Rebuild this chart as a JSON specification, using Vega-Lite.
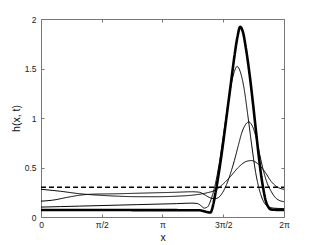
{
  "$schema": "https://vega.github.io/schema/vega-lite/v6.json",
  "width": 243,
  "height": 198,
  "autosize": {"type": "none"},
  "padding": {"left": 41, "top": 19, "right": 30, "bottom": 28},
  "background": "white",
  "config": {
    "view": {"stroke": null},
    "font": "Liberation Sans",
    "axis": {
      "grid": false,
      "domainColor": "#777",
      "domainWidth": 1,
      "tickColor": "#777",
      "tickSize": -3,
      "labelFont": "Liberation Sans",
      "labelFontSize": 8.5,
      "labelColor": "#222",
      "titleFont": "Liberation Sans",
      "titleFontSize": 10.5,
      "titleFontWeight": "normal",
      "titleColor": "#111"
    }
  },
  "data": {
    "values": [
      {"s": "d", "x": 0, "h": 0.3},
      {"s": "d", "x": 6.2832, "h": 0.3},

      {"s": "a", "x": 0, "h": 0.28},
      {"s": "a", "x": 0.5, "h": 0.26},
      {"s": "a", "x": 1.0, "h": 0.235},
      {"s": "a", "x": 1.5, "h": 0.22},
      {"s": "a", "x": 2.0, "h": 0.21},
      {"s": "a", "x": 2.5, "h": 0.205},
      {"s": "a", "x": 3.0, "h": 0.205},
      {"s": "a", "x": 3.5, "h": 0.21},
      {"s": "a", "x": 3.9, "h": 0.22},
      {"s": "a", "x": 4.1, "h": 0.23},
      {"s": "a", "x": 4.3, "h": 0.245},
      {"s": "a", "x": 4.5, "h": 0.27},
      {"s": "a", "x": 4.7, "h": 0.33},
      {"s": "a", "x": 4.9, "h": 0.41},
      {"s": "a", "x": 5.1, "h": 0.5},
      {"s": "a", "x": 5.3, "h": 0.56},
      {"s": "a", "x": 5.44, "h": 0.57},
      {"s": "a", "x": 5.6, "h": 0.54},
      {"s": "a", "x": 5.8, "h": 0.45},
      {"s": "a", "x": 5.95, "h": 0.36},
      {"s": "a", "x": 6.1, "h": 0.305},
      {"s": "a", "x": 6.2832, "h": 0.28},

      {"s": "b", "x": 0, "h": 0.16},
      {"s": "b", "x": 0.3, "h": 0.17},
      {"s": "b", "x": 0.7, "h": 0.2},
      {"s": "b", "x": 1.0, "h": 0.22},
      {"s": "b", "x": 1.3, "h": 0.23},
      {"s": "b", "x": 2.0, "h": 0.235},
      {"s": "b", "x": 2.5, "h": 0.24},
      {"s": "b", "x": 3.0, "h": 0.245},
      {"s": "b", "x": 3.5, "h": 0.25},
      {"s": "b", "x": 3.9, "h": 0.255},
      {"s": "b", "x": 4.1, "h": 0.25},
      {"s": "b", "x": 4.25, "h": 0.22},
      {"s": "b", "x": 4.4, "h": 0.19},
      {"s": "b", "x": 4.5, "h": 0.185},
      {"s": "b", "x": 4.6, "h": 0.2},
      {"s": "b", "x": 4.7, "h": 0.25},
      {"s": "b", "x": 4.8, "h": 0.33},
      {"s": "b", "x": 4.9, "h": 0.44},
      {"s": "b", "x": 5.0, "h": 0.57},
      {"s": "b", "x": 5.1, "h": 0.72},
      {"s": "b", "x": 5.2, "h": 0.86},
      {"s": "b", "x": 5.3, "h": 0.94},
      {"s": "b", "x": 5.37, "h": 0.96},
      {"s": "b", "x": 5.45, "h": 0.93},
      {"s": "b", "x": 5.55, "h": 0.82},
      {"s": "b", "x": 5.65, "h": 0.64},
      {"s": "b", "x": 5.75, "h": 0.47},
      {"s": "b", "x": 5.85, "h": 0.34},
      {"s": "b", "x": 5.95, "h": 0.26},
      {"s": "b", "x": 6.05, "h": 0.2},
      {"s": "b", "x": 6.15, "h": 0.17},
      {"s": "b", "x": 6.2832, "h": 0.155},

      {"s": "c", "x": 0, "h": 0.1},
      {"s": "c", "x": 0.5, "h": 0.105},
      {"s": "c", "x": 1.0, "h": 0.11},
      {"s": "c", "x": 1.5, "h": 0.115},
      {"s": "c", "x": 2.0, "h": 0.12},
      {"s": "c", "x": 2.5, "h": 0.125},
      {"s": "c", "x": 3.0, "h": 0.13},
      {"s": "c", "x": 3.5, "h": 0.135},
      {"s": "c", "x": 3.9, "h": 0.14},
      {"s": "c", "x": 4.05, "h": 0.135},
      {"s": "c", "x": 4.15, "h": 0.11},
      {"s": "c", "x": 4.22, "h": 0.09},
      {"s": "c", "x": 4.3, "h": 0.1},
      {"s": "c", "x": 4.4, "h": 0.18},
      {"s": "c", "x": 4.5, "h": 0.32},
      {"s": "c", "x": 4.6, "h": 0.52},
      {"s": "c", "x": 4.7, "h": 0.78},
      {"s": "c", "x": 4.8, "h": 1.05},
      {"s": "c", "x": 4.9, "h": 1.3},
      {"s": "c", "x": 5.0, "h": 1.47},
      {"s": "c", "x": 5.07, "h": 1.52},
      {"s": "c", "x": 5.15, "h": 1.47},
      {"s": "c", "x": 5.25, "h": 1.3},
      {"s": "c", "x": 5.35, "h": 1.02},
      {"s": "c", "x": 5.45, "h": 0.72},
      {"s": "c", "x": 5.55, "h": 0.45},
      {"s": "c", "x": 5.65, "h": 0.27},
      {"s": "c", "x": 5.75, "h": 0.16},
      {"s": "c", "x": 5.85, "h": 0.11},
      {"s": "c", "x": 6.0, "h": 0.09},
      {"s": "c", "x": 6.2832, "h": 0.085},

      {"s": "t", "x": 0, "h": 0.07},
      {"s": "t", "x": 2.0, "h": 0.07},
      {"s": "t", "x": 4.1, "h": 0.068},
      {"s": "t", "x": 4.2, "h": 0.06},
      {"s": "t", "x": 4.3, "h": 0.05},
      {"s": "t", "x": 4.38, "h": 0.045},
      {"s": "t", "x": 4.45, "h": 0.12},
      {"s": "t", "x": 4.5, "h": 0.22},
      {"s": "t", "x": 4.55, "h": 0.33},
      {"s": "t", "x": 4.6, "h": 0.45},
      {"s": "t", "x": 4.7, "h": 0.72},
      {"s": "t", "x": 4.8, "h": 1.02},
      {"s": "t", "x": 4.9, "h": 1.32},
      {"s": "t", "x": 5.0, "h": 1.62},
      {"s": "t", "x": 5.08, "h": 1.82},
      {"s": "t", "x": 5.15, "h": 1.92},
      {"s": "t", "x": 5.22, "h": 1.87},
      {"s": "t", "x": 5.3, "h": 1.7},
      {"s": "t", "x": 5.4, "h": 1.42},
      {"s": "t", "x": 5.5, "h": 1.08},
      {"s": "t", "x": 5.6, "h": 0.72},
      {"s": "t", "x": 5.7, "h": 0.4},
      {"s": "t", "x": 5.75, "h": 0.28},
      {"s": "t", "x": 5.8, "h": 0.18},
      {"s": "t", "x": 5.9, "h": 0.09},
      {"s": "t", "x": 5.95, "h": 0.075},
      {"s": "t", "x": 6.2832, "h": 0.07}
    ]
  },
  "layer": [
    {
      "mark": {"type": "line", "interpolate": "monotone", "color": "black"},
      "encoding": {
        "x": {
          "field": "x", "type": "quantitative",
          "scale": {"domain": [0, 6.2832], "nice": false, "zero": false},
          "axis": {
            "orient": "bottom",
            "title": "x",
            "values": [0, 1.5708, 3.14159, 4.71239, 6.2832],
            "labelExpr": "datum.value < 0.1 ? '0' : datum.value < 2 ? 'π/2' : datum.value < 4 ? 'π' : datum.value < 5 ? '3π/2' : '2π'",
            "labelPadding": 6,
            "labelFlush": false,
            "titleBaseline": "alphabetic",
            "titleY": 23
          }
        },
        "y": {
          "field": "h", "type": "quantitative",
          "scale": {"domain": [0, 2], "nice": false},
          "axis": {
            "orient": "left",
            "title": "h(x, t)",
            "values": [0, 0.5, 1, 1.5, 2],
            "labelExpr": "datum.value == 0 ? '0' : datum.value == 2 ? '2' : datum.value == 1 ? '1' : format(datum.value, '.1f')",
            "labelPadding": 8,
            "labelFlush": false,
            "titleX": -20,
            "titleY": 99
          }
        },
        "detail": {"field": "s"},
        "strokeWidth": {
          "field": "s", "type": "nominal", "legend": null,
          "scale": {"type": "ordinal", "domain": ["d", "a", "b", "c", "t"], "range": [1.4, 1.0, 1.0, 1.0, 2.6]}
        },
        "strokeDash": {
          "field": "s", "type": "nominal", "legend": null,
          "scale": {"domain": ["d", "a", "b", "c", "t"], "range": [[5, 3], [1, 0], [1, 0], [1, 0], [1, 0]]}
        }
      }
    },
    {
      "mark": {"type": "point", "opacity": 0},
      "encoding": {
        "x": {
          "field": "x", "type": "quantitative",
          "axis": {"orient": "top", "title": null, "labels": false, "values": [0, 1.5708, 3.14159, 4.71239, 6.2832]}
        },
        "y": {
          "field": "h", "type": "quantitative",
          "axis": {"orient": "right", "title": null, "labels": false, "values": [0, 0.5, 1, 1.5, 2]}
        }
      }
    }
  ],
  "resolve": {"axis": {"x": "independent", "y": "independent"}}
}
